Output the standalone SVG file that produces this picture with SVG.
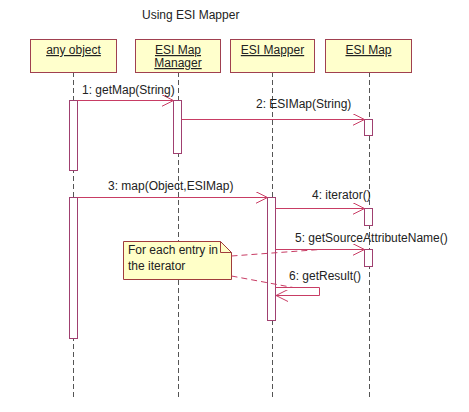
<svg xmlns="http://www.w3.org/2000/svg" width="469" height="412" viewBox="0 0 469 412">
<defs>
<style>
text{font-family:"Liberation Sans",Arial,sans-serif;font-size:12px;fill:#222}
.obj{fill:#ffffcc;stroke:#a04050;stroke-width:1}
.life{stroke:#555;stroke-width:1;stroke-dasharray:5,3;fill:none}
.act{fill:#fff;stroke:#a04070;stroke-width:1}
.msg{stroke:#c83c64;stroke-width:1;fill:none}
.u{text-decoration:underline}
.note{fill:#ffffc8;stroke:#a03c3c;stroke-width:1}
.nl{stroke:#c83c64;stroke-width:1;stroke-dasharray:6,4;fill:none}
</style>
<marker id="open" markerWidth="14" markerHeight="12" refX="12" refY="6" orient="auto" markerUnits="userSpaceOnUse">
<path d="M0,0 L12,6 L0,12" fill="none" stroke="#c83c64" stroke-width="1"/>
</marker>
</defs>
<rect width="469" height="412" fill="#fff"/>
<text x="142" y="19">Using ESI Mapper</text>

<g id="lifelines">
<line class="life" x1="73.5" y1="72" x2="73.5" y2="397"/>
<line class="life" x1="178.5" y1="72" x2="178.5" y2="397"/>
<line class="life" x1="272.5" y1="72" x2="272.5" y2="397"/>
<line class="life" x1="369.5" y1="72" x2="369.5" y2="397"/>
</g>

<g id="any_object">
<rect class="obj" x="30.5" y="39.5" width="86" height="33"/>
<text x="73.5" y="54" text-anchor="middle" class="u">any object</text>
<rect class="act" x="69.5" y="100.5" width="8" height="70"/>
<rect class="act" x="69.5" y="197.5" width="8" height="141"/>
</g>
<g id="esi_map_manager">
<rect class="obj" x="135.5" y="39.5" width="85" height="33"/>
<text x="178" y="54" text-anchor="middle" class="u">ESI Map</text>
<text x="178" y="67" text-anchor="middle" class="u">Manager</text>
<rect class="act" x="173.5" y="100.5" width="8" height="53"/>
</g>
<g id="esi_mapper">
<rect class="obj" x="230.5" y="39.5" width="84" height="33"/>
<text x="272.5" y="54" text-anchor="middle" class="u">ESI Mapper</text>
<rect class="act" x="267.5" y="197.5" width="8" height="123"/>
</g>
<g id="esi_map">
<rect class="obj" x="325.5" y="39.5" width="86" height="33"/>
<text x="368.5" y="54" text-anchor="middle" class="u">ESI Map</text>
<rect class="act" x="364.5" y="119.5" width="8" height="16"/>
<rect class="act" x="364.5" y="208.5" width="8" height="17"/>
<rect class="act" x="364.5" y="249.5" width="8" height="17"/>
</g>

<g id="note">
<path class="note" d="M123.5,241.5 H220.5 L231.5,252.5 V279.5 H123.5 Z"/>
<path d="M220.5,241.5 V252.5 H231.5" fill="none" stroke="#a03c3c" stroke-width="1"/>
<text x="128" y="254">For each entry in</text>
<text x="128" y="270">the iterator</text>
</g>

<g id="connectors">
<line class="msg" x1="77.5" y1="100.5" x2="173.5" y2="100.5" marker-end="url(#open)"/>
<line class="msg" x1="181.5" y1="119.5" x2="364.5" y2="119.5" marker-end="url(#open)"/>
<line class="msg" x1="77.5" y1="197.5" x2="267.5" y2="197.5" marker-end="url(#open)"/>
<line class="msg" x1="275.5" y1="208.5" x2="364.5" y2="208.5" marker-end="url(#open)"/>
<line class="msg" x1="275.5" y1="249.5" x2="364.5" y2="249.5" marker-end="url(#open)"/>
<path class="msg" d="M275.5,287.5 H319.5 V295.5 H276" marker-end="url(#open)"/>
<line class="nl" x1="231.5" y1="256" x2="320" y2="249.5"/>
<line class="nl" x1="231.5" y1="276" x2="293" y2="287.5"/>
<text x="82" y="94">1: getMap(String)</text>
<text x="256" y="108">2: ESIMap(String)</text>
<text x="108" y="190">3: map(Object,ESIMap)</text>
<text x="312" y="199">4: iterator()</text>
<text x="295" y="242">5: getSourceAttributeName()</text>
<text x="289" y="280">6: getResult()</text>
</g>
</svg>
